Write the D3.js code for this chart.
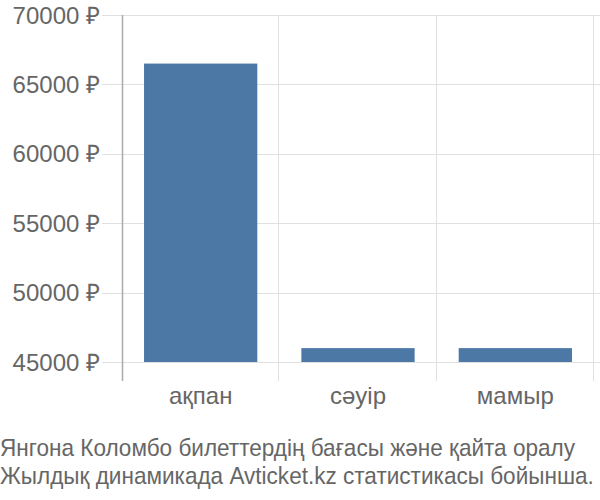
<!DOCTYPE html>
<meta charset="utf-8">
<title>Chart</title>
<style>
body {
  margin: 0;
  font-family: "Liberation Sans", Arial, sans-serif;
  background: #fff;
}
svg { display: block; }
.grid line { stroke: #e0e0e0; stroke-width: 1; shape-rendering: crispEdges; }
.lbl { fill: #666; font-size: 24px; }
</style>
<body>
<div id="chart"></div>
</body>
<script src="https://cdn.jsdelivr.net/npm/d3@7"></script>
<script>

var months = ['ақпан', 'сәуір', 'мамыр'],
    prices = [66500, 46000, 46000],
    yTicks = [45000, 50000, 55000, 60000, 65000, 70000],
    caption = ['Янгона Коломбо билеттердің бағасы және қайта оралу',
               'Жылдық динамикада Avticket.kz статистикасы бойынша.']

var W = 600, H = 500,
    mLeft = 122, mRight = 594, mTop = 15, mBottom = 362

var svg = d3.select('#chart').append('svg')
    .attr('width', W).attr('height', H)

var x = d3.scaleBand().domain(months).range([mLeft, mRight])
    .paddingInner(0.28).paddingOuter(0.14)
var y = d3.scaleLinear().domain([45000, 70000]).range([mBottom, mTop])

// band boundaries for vertical grid lines
var bounds = d3.range(months.length + 1).map(function(i){ return mLeft + i*(mRight - mLeft)/months.length })

var g = svg.append('g').attr('class', 'grid')

g.selectAll('line.h').data(yTicks).join('line')
    .attr('class', 'h')
    .attr('x1', mLeft - 20).attr('x2', W)
    .attr('y1', function(d){ return Math.round(y(d)) + 0.5 })
    .attr('y2', function(d){ return Math.round(y(d)) + 0.5 })

g.selectAll('line.v').data(bounds.slice(1)).join('line')
    .attr('class', 'v')
    .attr('x1', function(d){ return Math.round(d) - 0.5 })
    .attr('x2', function(d){ return Math.round(d) - 0.5 })
    .attr('y1', mTop).attr('y2', mBottom + 19)

svg.append('line')
    .attr('x1', mLeft + 0.5).attr('x2', mLeft + 0.5)
    .attr('y1', mTop).attr('y2', mBottom + 19)
    .attr('stroke', '#aaa').attr('stroke-width', 1.5)

svg.selectAll('rect.bar').data(prices).join('rect')
    .attr('class', 'bar')
    .attr('x', function(d, i){ return x(months[i]) })
    .attr('width', x.bandwidth())
    .attr('y', function(d){ return y(d) })
    .attr('height', function(d){ return y(45000) - y(d) })
    .attr('fill', '#4c78a6')

svg.selectAll('text.ytick').data(yTicks).join('text')
    .attr('class', 'lbl ytick')
    .attr('x', mLeft - 22)
    .attr('y', function(d){ return y(d) })
    .attr('dy', '0.36em')
    .attr('text-anchor', 'end')
    .text(function(d){ return d + ' ₽' })

svg.selectAll('text.xtick').data(months).join('text')
    .attr('class', 'lbl xtick')
    .attr('x', function(d){ return x(d) + x.bandwidth()/2 })
    .attr('y', mBottom + 42)
    .attr('text-anchor', 'middle')
    .text(function(d){ return d })

// caption is a little narrower than plain 24px text
svg.append('g').attr('transform', 'scale(0.94,1)')
  .selectAll('text.cap').data(caption).join('text')
    .attr('class', 'lbl cap')
    .attr('x', 0)
    .attr('y', function(d, i){ return 456 + i*28 })
    .text(function(d){ return d })

</script>
